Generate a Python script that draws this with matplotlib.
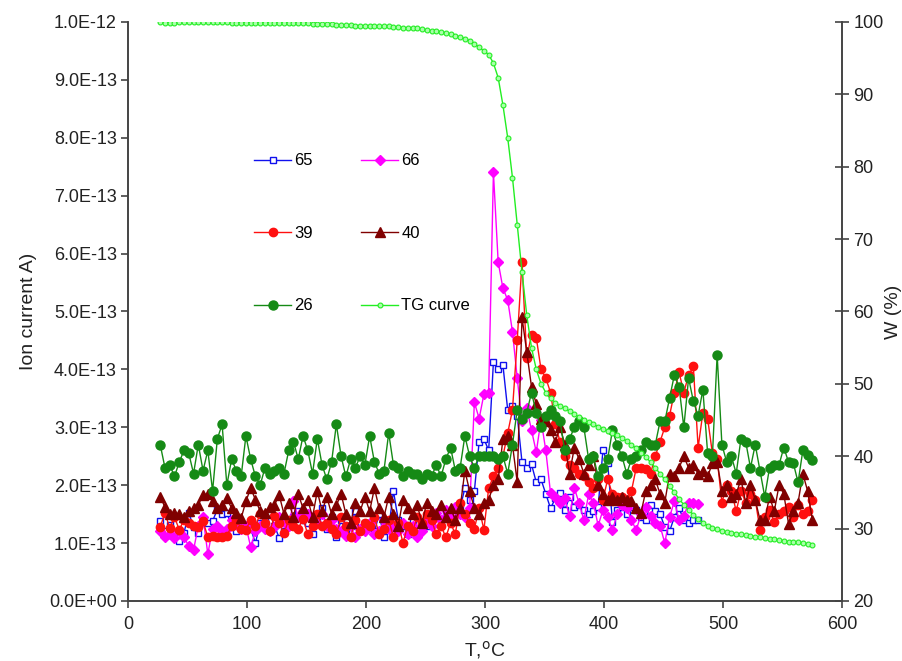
import matplotlib
matplotlib.use("Agg")
import matplotlib.pyplot as plt
from matplotlib.ticker import FuncFormatter, MultipleLocator
import numpy as np

plt.rcParams['font.family'] = ['Liberation Sans', 'DejaVu Sans']
plt.rcParams['font.size'] = 11

# temperature grid of the MS/TG scan, deg C
T_full = np.arange(27, 576, 4)      # 26, 39, 40 and TG
T_short = np.arange(27, 480, 4)     # 65 and 66 stop earlier

# ion currents, in units of 1e-13 A
ion_65 = [1.38, 1.2, 1.32, 1.15, 1.04, 1.18, 1.52, 1.28, 1.18, 1.38, 1.35, 1.38, 1.58, 1.5, 1.52, 1.3, 1.2, 1.25, 1.3,
          1.25, 1.0, 1.35, 1.4, 1.52, 1.3, 1.09, 1.2, 1.3, 1.45, 1.55, 1.4, 1.35, 1.15, 1.4, 1.6, 1.25, 1.45, 1.1, 1.4,
          1.2, 1.3, 1.55, 1.2, 1.35,
          1.35, 1.2, 1.5, 1.1, 1.25, 1.9, 1.4, 1.3, 1.15, 1.4, 1.25, 1.35, 1.3, 1.45, 1.35, 1.4, 1.5, 1.4, 1.5, 1.6,
          1.95, 1.75, 1.9, 2.75, 2.8,
          2.6, 4.13, 4.0, 4.07, 3.3, 3.36, 3.2, 2.4, 2.3, 2.36, 2.05, 2.1, 1.85, 1.6, 1.77, 1.86, 1.57, 1.8, 1.63, 1.66,
          1.57, 1.5, 1.55, 1.63, 2.6,
          2.38, 1.37, 1.57, 1.63, 1.5, 1.63, 1.57, 1.45, 1.4, 1.66, 1.55, 1.5, 1.28, 1.2, 1.45, 1.6, 1.4, 1.34, 1.4, 1.4]

ion_66 = [1.2, 1.1, 1.15, 1.08, 1.2, 1.1, 0.95, 0.88, 1.3, 1.45, 0.81, 1.25, 1.3, 1.2, 1.25, 1.4, 1.33, 1.25, 1.3,
          0.93, 1.2, 1.3, 1.25, 1.2, 1.28, 1.45, 1.37, 1.3, 1.72, 1.45, 1.55, 1.5, 1.4, 1.35, 1.5, 1.3, 1.4, 1.25, 1.2,
          1.12, 1.3, 1.1, 1.25, 1.2,
          1.35, 1.15, 1.2, 1.4, 1.25, 1.3, 1.2, 1.35, 1.15, 1.3, 1.1, 1.2, 1.4, 1.3, 1.52, 1.4, 1.57, 1.45, 1.63, 1.5,
          1.45, 1.6, 3.43, 3.15, 3.57,
          3.6, 7.4, 5.85, 5.4, 5.2, 4.65, 3.85, 3.1, 3.33, 2.95, 2.57, 3.13, 2.6, 1.86, 1.8, 1.7, 1.77, 1.46, 1.95, 1.69,
          1.4, 1.84, 1.7, 1.3, 1.57,
          1.45, 1.22, 1.5, 1.66, 1.6, 1.4, 1.22, 1.5, 1.63, 1.46, 1.35, 1.3, 1.0, 1.45, 1.72, 1.4, 1.46, 1.7, 1.7, 1.68]

ion_39 = [1.28, 1.52, 1.26, 1.45, 1.23, 1.4, 1.34, 1.3, 1.28, 1.38, 1.1, 1.12, 1.1, 1.1, 1.12, 1.3, 1.4, 1.25, 1.23,
          1.4, 1.3, 1.5, 1.35, 1.2, 1.46, 1.35, 1.17, 1.4, 1.3, 1.25, 1.42, 1.15, 1.3, 1.5, 1.3, 1.35, 1.25, 1.15, 1.45,
          1.3, 1.1, 1.4, 1.2, 1.35,
          1.3, 1.45, 1.15, 1.25, 1.4, 1.1, 1.35, 1.0, 1.3, 1.2, 1.45, 1.35, 1.5, 1.4, 1.15, 1.3, 1.1, 1.35, 1.15, 1.7,
          1.5, 1.35, 1.25, 1.6, 1.23,
          1.95, 2.15, 2.3, 2.5, 2.9, 3.3, 4.5, 5.85, 4.2, 4.6, 4.55, 4.0, 3.85, 3.6, 3.05, 2.75, 2.5, 2.35, 2.3, 2.2,
          2.15, 2.05, 1.95, 2.1, 1.75,
          2.1, 1.85, 1.8, 1.8, 1.75, 1.9, 2.3, 2.3, 2.28, 2.2, 2.5, 2.75, 3.0, 3.2, 3.6, 3.95, 3.6, 3.9, 4.05, 2.65,
          3.25, 3.15, 2.55, 2.45, 1.7,
          2.0, 1.9, 1.55, 1.9, 1.7, 1.85, 1.75, 1.23, 1.45, 1.57, 1.37, 1.5, 1.55, 1.63, 1.45, 1.66, 1.5, 1.55, 1.74]

ion_40 = [1.8, 1.62, 1.5, 1.52, 1.5, 1.45, 1.55, 1.6, 1.66, 1.83, 1.85, 1.72, 1.6, 1.66, 1.78, 1.6, 1.52, 1.43, 1.72,
          1.95, 1.75, 1.55, 1.52, 1.62, 1.66, 1.83, 1.5, 1.7, 1.45, 1.85, 1.6, 1.75, 1.45, 1.9, 1.55, 1.8, 1.5, 1.65,
          1.85, 1.5, 1.35, 1.7, 1.55, 1.8,
          1.55, 1.95, 1.6, 1.45, 1.8, 1.5, 1.3, 1.75, 1.6, 1.5, 1.65, 1.35, 1.7, 1.55, 1.5, 1.65, 1.45, 1.6, 1.4, 1.6,
          2.25, 1.9, 1.6, 1.5, 1.7,
          1.75, 2.0, 2.1, 2.8, 2.85, 2.7, 2.05, 4.9, 4.3, 3.7, 3.4, 3.15, 3.1, 2.95, 2.75, 3.0, 2.7, 2.2, 2.65, 2.45,
          2.2, 2.35, 2.5, 2.0, 1.85,
          1.74, 1.8, 1.75, 1.8, 1.75, 1.72, 1.6, 1.52, 1.9, 2.0, 2.1, 1.85, 1.7, 2.2, 2.15, 2.3, 2.5, 2.3, 2.35, 2.2,
          2.25, 2.15, 2.38, 2.4, 1.9,
          2.0, 1.8, 1.85, 2.1, 1.7, 2.0, 1.75, 1.4, 1.4, 1.8, 1.55, 2.0, 1.85, 1.33, 1.55, 1.7, 2.2, 1.9, 1.4]

ion_26 = [2.7, 2.3, 2.35, 2.15, 2.4, 2.6, 2.55, 2.2, 2.7, 2.25, 2.6, 1.9, 2.8, 3.05, 2.0, 2.45, 2.25, 2.15, 2.85,
          2.45, 2.15, 2.0, 2.3, 2.2, 2.25, 2.3, 2.2, 2.6, 2.75, 2.45, 2.85, 2.6, 2.2, 2.8, 2.35, 2.1, 2.4, 3.05, 2.5,
          2.15, 2.45, 2.3, 2.5, 2.35,
          2.85, 2.4, 2.2, 2.25, 2.9, 2.35, 2.3, 2.15, 2.25, 2.2, 2.2, 2.1, 2.2, 2.15, 2.35, 2.15, 2.45, 2.65, 2.25, 2.3,
          2.85, 2.5, 2.3, 2.5, 2.5,
          2.5, 2.5, 2.45, 2.5, 2.2, 2.7, 3.3, 3.15, 3.25, 3.6, 3.25, 3.0, 3.2, 3.3, 3.2, 3.1, 2.6, 2.8, 3.0, 3.1,
          3.0, 2.45, 2.5, 2.15, 2.3,
          2.45, 2.95, 2.7, 2.5, 2.2, 2.45, 2.5, 2.6, 2.75, 2.7, 2.7, 3.1, 3.1, 3.5, 3.9, 3.7, 3.0, 3.85, 3.45, 3.2,
          3.65, 2.55, 2.5, 4.25, 2.7,
          2.4, 2.5, 2.2, 2.8, 2.75, 2.3, 2.7, 2.25, 1.8, 2.3, 2.35, 2.35, 2.65, 2.4, 2.38, 2.05, 2.6, 2.52, 2.43]

# TG mass loss, %
tg_curve = [100.0, 99.9, 99.9, 99.9, 100.0, 100.0, 100.0, 100.0, 100.0, 100.0, 100.0, 100.0, 100.0, 100.0, 100.0,
            99.9, 99.9, 99.9, 99.9,
            99.9, 99.9, 99.9, 99.9, 99.9, 99.8, 99.8, 99.8, 99.8, 99.8, 99.8, 99.8, 99.8, 99.7, 99.7, 99.7, 99.7,
            99.7, 99.6, 99.6, 99.6, 99.6, 99.5, 99.5, 99.5,
            99.5, 99.5, 99.4, 99.4, 99.4, 99.3, 99.3, 99.2, 99.2, 99.1, 99.1, 99.0, 98.9, 98.8, 98.7, 98.6, 98.5,
            98.3, 98.1, 97.9, 97.7, 97.4, 97.0, 96.5, 96.0,
            95.5, 94.3, 92.3, 88.5, 84.0, 78.5, 72.0, 65.5, 59.5, 55.0, 52.0, 50.0, 48.8, 48.0, 47.4, 47.0, 46.6,
            46.2, 45.8, 45.4, 45.0, 44.7, 44.4, 44.1, 43.8,
            43.5, 43.2, 42.9, 42.5, 42.1, 41.6, 41.1, 40.5, 39.9, 39.2, 38.4, 37.6, 36.8, 35.9, 35.0, 34.1, 33.3,
            32.6, 31.9, 31.3, 30.8, 30.4, 30.1, 29.9, 29.7,
            29.5, 29.4, 29.3, 29.2, 29.1, 29.0, 28.9, 28.8, 28.7, 28.6, 28.5, 28.4, 28.3, 28.2, 28.2, 28.1, 28.0,
            27.9, 27.8]

scale = 1e-13

fig = plt.figure(figsize=(9.02, 6.61), dpi=100)
ax = fig.add_axes([0.142, 0.0908, 0.7916, 0.876])
ax2 = ax.twinx()

l65, = ax.plot(T_short, np.array(ion_65) * scale, color='#1010ee', lw=1, marker='s', ms=4,
               mfc='white', mec='#1010ee', mew=1, label='65')
l66, = ax.plot(T_short, np.array(ion_66) * scale, color='#ff00ff', lw=1, marker='D', ms=5,
               mec='#ff00ff', label='66')
l39, = ax.plot(T_full, np.array(ion_39) * scale, color='#ff1010', lw=1, marker='o', ms=6,
               mec='#ff1010', label='39')
l40, = ax.plot(T_full, np.array(ion_40) * scale, color='#800000', lw=1, marker='^', ms=7,
               mec='#800000', label='40')
l26, = ax.plot(T_full, np.array(ion_26) * scale, color='#158a15', lw=1, marker='o', ms=6.5,
               mec='#158a15', label='26')
ltg, = ax2.plot(T_full, tg_curve, color='#22ee22', lw=1, marker='o', ms=3.5,
                mfc='#aaffaa', mec='#22ee22', mew=0.8, label='TG curve')

ax.set_xlim(0, 600)
ax.set_ylim(0, 1e-12)
ax2.set_ylim(20, 100)

ax.xaxis.set_major_locator(MultipleLocator(100))
ax.yaxis.set_major_locator(MultipleLocator(1e-13))
ax2.yaxis.set_major_locator(MultipleLocator(10))


def sci_label(v, pos):
    if abs(v) < 1e-20:
        return '0.0E+00'
    exp = int(np.floor(np.log10(abs(v)) + 1e-9))
    mant = v / 10 ** exp
    return '%.1fE%03d' % (mant, exp) if exp < 0 else '%.1fE+%02d' % (mant, exp)


ax.yaxis.set_major_formatter(FuncFormatter(sci_label))

for a in (ax, ax2):
    a.spines['top'].set_visible(False)
    for s in a.spines.values():
        s.set_color('#444444')
        s.set_linewidth(1.2)

ax.tick_params(axis='both', direction='out', length=5, width=1.2, color='#444444',
               labelsize=13, labelcolor='#222222', pad=3)
ax.tick_params(axis='x', pad=6)
ax2.tick_params(axis='y', direction='inout', length=10, width=1.2, color='#444444',
                labelsize=13, labelcolor='#222222', pad=3)

ax.set_xlabel('T,$^{\\rm o}$C', fontsize=14, color='#222222', labelpad=4)
ax.set_ylabel('Ion current A)', fontsize=14, color='#222222', labelpad=9)
ax2.set_ylabel('W (%)', fontsize=14, color='#222222', labelpad=1)

handles = [l65, l39, l26, l66, l40, ltg]
fig.legend(handles=handles, labels=[h.get_label() for h in handles], ncol=2,
           loc='upper left', bbox_to_anchor=(0.282, 0.768), frameon=False,
           borderpad=0, borderaxespad=0, labelspacing=3.45, handlelength=2.2,
           handletextpad=0.2, columnspacing=2.9, fontsize=12)

fig.savefig('out.png', dpi=100)
